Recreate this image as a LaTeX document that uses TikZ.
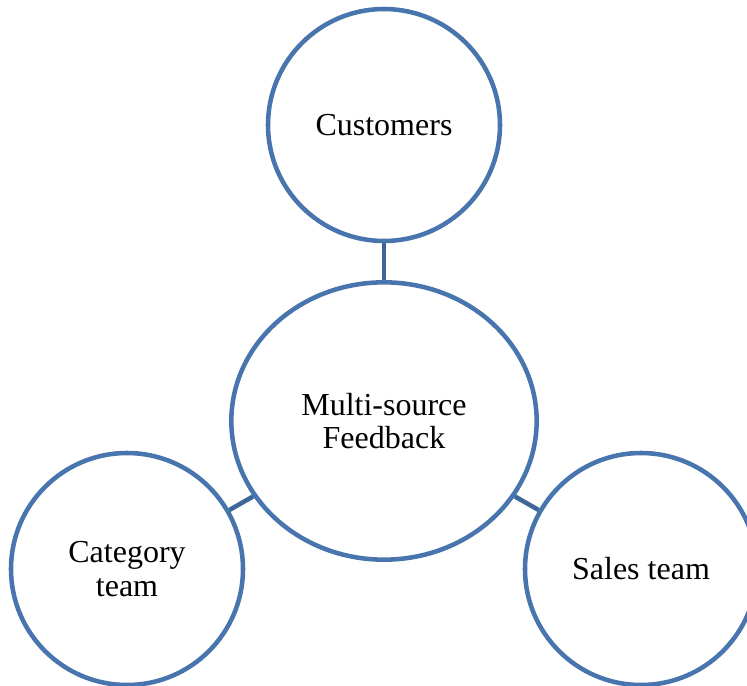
\documentclass[tikz,border=0pt]{standalone}
\usepackage{fontspec}
\setmainfont{Liberation Serif}
\usetikzlibrary{shapes.geometric}
\definecolor{ringblue}{RGB}{72,117,173}
\definecolor{linkblue}{RGB}{62,102,150}

\begin{document}
\begin{tikzpicture}[x=0.75pt,y=-0.75pt,
 font=\fontsize{24}{25}\selectfont,
 hub/.style={circle,draw=ringblue,line width=3.4pt,minimum size=174pt,inner sep=0pt,align=center},
 core/.style={hub,ellipse,minimum width=229pt,minimum height=208pt},
 link/.style={draw=linkblue,line width=3.4pt}]
\useasboundingbox (0,0) rectangle (747,686);
\node[core] (feedback) at (384,421) {Multi-source\\Feedback};
\node[hub] (customers) at (384,125) {Customers};
\node[hub] (category) at (127,569) {Category\\team};
\node[hub] (sales) at (641,569) {Sales team};
\foreach \src in {customers,category,sales} \draw[link] (\src)--(feedback);
\end{tikzpicture}
\end{document}
